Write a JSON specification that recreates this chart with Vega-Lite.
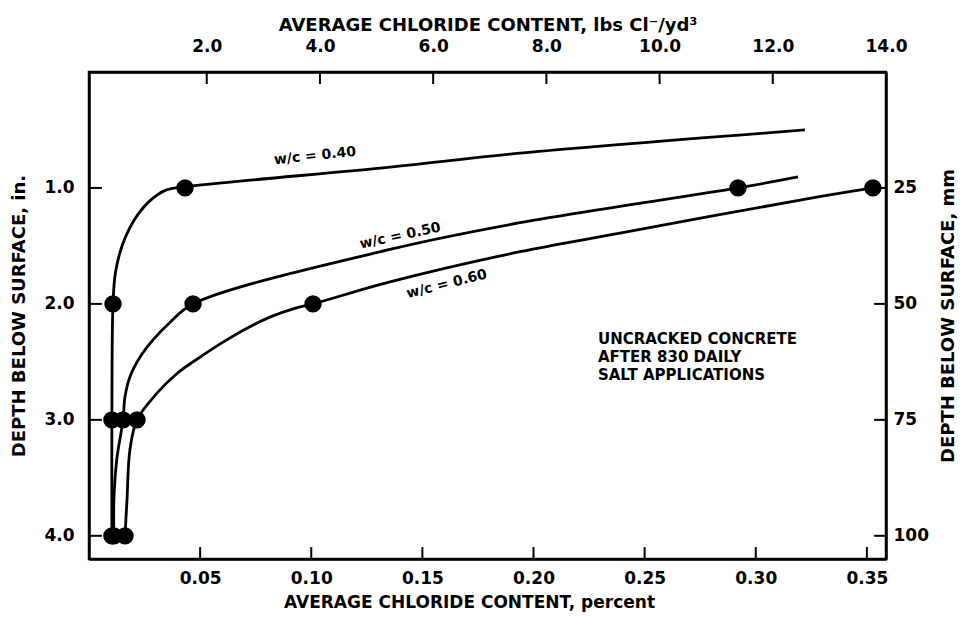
{
  "$schema": "https://vega.github.io/schema/vega-lite/v6.json",
  "width": 797,
  "height": 487,
  "autosize": "none",
  "padding": {"left": 89, "top": 72, "right": 79, "bottom": 59},
  "background": "white",
  "config": {
    "view": {"stroke": "black", "strokeWidth": 2.5},
    "font": "DejaVu Sans",
    "axis": {
      "grid": false,
      "domainColor": "black",
      "domainWidth": 2.5,
      "ticks": false,
      "labelColor": "black",
      "titleColor": "black",
      "labelFont": "DejaVu Sans",
      "titleFont": "DejaVu Sans",
      "labelFontSize": 17,
      "labelFontWeight": "bold",
      "titleFontSize": 17,
      "titleFontWeight": "bold",
      "labelFlush": false
    }
  },
  "datasets": {
    "curves": [
      {"wc": "0.40", "pct": 0.0103, "depth": 4.0},
      {"wc": "0.40", "pct": 0.0103, "depth": 3.0},
      {"wc": "0.40", "pct": 0.0108, "depth": 2.0},
      {"wc": "0.40", "pct": 0.0119, "depth": 1.73},
      {"wc": "0.40", "pct": 0.0151, "depth": 1.487},
      {"wc": "0.40", "pct": 0.0203, "depth": 1.278},
      {"wc": "0.40", "pct": 0.0270, "depth": 1.118},
      {"wc": "0.40", "pct": 0.0348, "depth": 1.017},
      {"wc": "0.40", "pct": 0.0432, "depth": 0.99},
      {"wc": "0.40", "pct": 0.1354, "depth": 0.82},
      {"wc": "0.40", "pct": 0.1939, "depth": 0.70},
      {"wc": "0.40", "pct": 0.3221, "depth": 0.50},
      {"wc": "0.50", "pct": 0.0112, "depth": 4.0},
      {"wc": "0.50", "pct": 0.0112, "depth": 3.69},
      {"wc": "0.50", "pct": 0.0125, "depth": 3.34},
      {"wc": "0.50", "pct": 0.0153, "depth": 3.0},
      {"wc": "0.50", "pct": 0.0162, "depth": 2.80},
      {"wc": "0.50", "pct": 0.0184, "depth": 2.63},
      {"wc": "0.50", "pct": 0.0229, "depth": 2.46},
      {"wc": "0.50", "pct": 0.0288, "depth": 2.31},
      {"wc": "0.50", "pct": 0.0364, "depth": 2.16},
      {"wc": "0.50", "pct": 0.0468, "depth": 2.0},
      {"wc": "0.50", "pct": 0.1354, "depth": 1.53},
      {"wc": "0.50", "pct": 0.1939, "depth": 1.30},
      {"wc": "0.50", "pct": 0.2920, "depth": 1.0},
      {"wc": "0.50", "pct": 0.3190, "depth": 0.905},
      {"wc": "0.60", "pct": 0.0162, "depth": 4.0},
      {"wc": "0.60", "pct": 0.0171, "depth": 3.69},
      {"wc": "0.60", "pct": 0.0184, "depth": 3.26},
      {"wc": "0.60", "pct": 0.0216, "depth": 3.0},
      {"wc": "0.60", "pct": 0.0306, "depth": 2.77},
      {"wc": "0.60", "pct": 0.0396, "depth": 2.60},
      {"wc": "0.60", "pct": 0.0499, "depth": 2.46},
      {"wc": "0.60", "pct": 0.0603, "depth": 2.33},
      {"wc": "0.60", "pct": 0.0711, "depth": 2.21},
      {"wc": "0.60", "pct": 0.0819, "depth": 2.11},
      {"wc": "0.60", "pct": 0.0922, "depth": 2.04},
      {"wc": "0.60", "pct": 0.1008, "depth": 2.0},
      {"wc": "0.60", "pct": 0.1354, "depth": 1.81},
      {"wc": "0.60", "pct": 0.1939, "depth": 1.55},
      {"wc": "0.60", "pct": 0.2389, "depth": 1.39},
      {"wc": "0.60", "pct": 0.3212, "depth": 1.10},
      {"wc": "0.60", "pct": 0.3527, "depth": 1.0}
    ],
    "points": [
      {"wc": "0.40", "pct": 0.0103, "depth": 4.0},
      {"wc": "0.40", "pct": 0.0103, "depth": 3.0},
      {"wc": "0.40", "pct": 0.0108, "depth": 2.0},
      {"wc": "0.40", "pct": 0.0432, "depth": 1.0},
      {"wc": "0.50", "pct": 0.0112, "depth": 4.0},
      {"wc": "0.50", "pct": 0.0153, "depth": 3.0},
      {"wc": "0.50", "pct": 0.0468, "depth": 2.0},
      {"wc": "0.50", "pct": 0.2920, "depth": 1.0},
      {"wc": "0.60", "pct": 0.0162, "depth": 4.0},
      {"wc": "0.60", "pct": 0.0216, "depth": 3.0},
      {"wc": "0.60", "pct": 0.1008, "depth": 2.0},
      {"wc": "0.60", "pct": 0.3527, "depth": 1.0}
    ],
    "labels": [
      {"wc": "0.40", "label": "w/c = 0.40", "pct": 0.1017, "depth": 0.724},
      {"wc": "0.50", "label": "w/c = 0.50", "pct": 0.140, "depth": 1.414},
      {"wc": "0.60", "label": "w/c = 0.60", "pct": 0.161, "depth": 1.83}
    ],
    "notes": [
      {"line": "UNCRACKED CONCRETE", "pct": 0.229, "depth": 2.30},
      {"line": "AFTER 830 DAILY", "pct": 0.229, "depth": 2.46},
      {"line": "SALT APPLICATIONS", "pct": 0.229, "depth": 2.61}
    ],
    "pctTicks": [
      {"pct": 0.05, "depth": 4.2, "depthEnd": 4.097},
      {"pct": 0.10, "depth": 4.2, "depthEnd": 4.097},
      {"pct": 0.15, "depth": 4.2, "depthEnd": 4.097},
      {"pct": 0.20, "depth": 4.2, "depthEnd": 4.097},
      {"pct": 0.25, "depth": 4.2, "depthEnd": 4.097},
      {"pct": 0.30, "depth": 4.2, "depthEnd": 4.097},
      {"pct": 0.35, "depth": 4.2, "depthEnd": 4.097}
    ],
    "depthTicks": [
      {"depth": 1, "pct": 0, "pctEnd": 0.0058},
      {"depth": 2, "pct": 0, "pctEnd": 0.0058},
      {"depth": 3, "pct": 0, "pctEnd": 0.0058},
      {"depth": 4, "pct": 0, "pctEnd": 0.0058}
    ],
    "lbsTicks": [
      {"lbs": 2, "mm": 0, "mmEnd": 2.6},
      {"lbs": 4, "mm": 0, "mmEnd": 2.6},
      {"lbs": 6, "mm": 0, "mmEnd": 2.6},
      {"lbs": 8, "mm": 0, "mmEnd": 2.6},
      {"lbs": 10, "mm": 0, "mmEnd": 2.6},
      {"lbs": 12, "mm": 0, "mmEnd": 2.6}
    ],
    "mmTicks": [
      {"mm": 25, "lbs": 14.0, "lbsEnd": 13.79},
      {"mm": 50, "lbs": 14.0, "lbsEnd": 13.79},
      {"mm": 75, "lbs": 14.0, "lbsEnd": 13.79},
      {"mm": 100, "lbs": 14.0, "lbsEnd": 13.79}
    ],
    "aux": [
      {"lbs": 2, "mm": 25},
      {"lbs": 14, "mm": 100}
    ]
  },
  "layer": [
    {
      "encoding": {
        "x": {
          "field": "pct", "type": "quantitative",
          "scale": {"domain": [0, 0.3586], "nice": false, "zero": false},
          "axis": {
            "orient": "bottom",
            "values": [0.05, 0.10, 0.15, 0.20, 0.25, 0.30, 0.35],
            "format": ".2f",
            "labelPadding": 11,
            "title": "AVERAGE CHLORIDE CONTENT,  percent",
            "titlePadding": 8,
            "titleX": 380
          }
        },
        "y": {
          "field": "depth", "type": "quantitative",
          "scale": {"domain": [0, 4.2], "reverse": true, "nice": false, "zero": false},
          "axis": {
            "orient": "left",
            "values": [1, 2, 3, 4],
            "format": ".1f",
            "labelPadding": 15,
            "title": "DEPTH BELOW SURFACE,  in.",
            "titleFontSize": 18,
            "titlePadding": 15
          }
        }
      },
      "layer": [
        {
          "data": {"name": "pctTicks"},
          "mark": {"type": "rule", "color": "black", "strokeWidth": 2},
          "encoding": {"y2": {"field": "depthEnd"}}
        },
        {
          "data": {"name": "depthTicks"},
          "mark": {"type": "rule", "color": "black", "strokeWidth": 2},
          "encoding": {"x2": {"field": "pctEnd"}}
        },
        {
          "data": {"name": "curves"},
          "mark": {"type": "line", "interpolate": "catmull-rom", "color": "black", "strokeWidth": 2.8},
          "encoding": {
            "detail": {"field": "wc"},
            "order": {"field": "depth", "sort": "descending"}
          }
        },
        {
          "data": {"name": "points"},
          "mark": {"type": "circle", "color": "black", "opacity": 1, "size": 300}
        },
        {
          "data": {"name": "labels"},
          "transform": [{"filter": "datum.wc == '0.40'"}],
          "mark": {"type": "text", "angle": -6, "fontSize": 14, "fontWeight": "bold", "color": "black", "align": "center", "baseline": "middle"},
          "encoding": {"text": {"field": "label"}}
        },
        {
          "data": {"name": "labels"},
          "transform": [{"filter": "datum.wc == '0.50'"}],
          "mark": {"type": "text", "angle": -12, "fontSize": 14, "fontWeight": "bold", "color": "black", "align": "center", "baseline": "middle"},
          "encoding": {"text": {"field": "label"}}
        },
        {
          "data": {"name": "labels"},
          "transform": [{"filter": "datum.wc == '0.60'"}],
          "mark": {"type": "text", "angle": -14, "fontSize": 14, "fontWeight": "bold", "color": "black", "align": "center", "baseline": "middle"},
          "encoding": {"text": {"field": "label"}}
        },
        {
          "data": {"name": "notes"},
          "mark": {"type": "text", "fontSize": 15, "fontWeight": "bold", "color": "black", "align": "left", "baseline": "middle"},
          "encoding": {"text": {"field": "line"}}
        }
      ]
    },
    {
      "encoding": {
        "x": {
          "field": "lbs", "type": "quantitative",
          "scale": {"domain": [-0.08, 14.0], "nice": false, "zero": false},
          "axis": {
            "orient": "top",
            "values": [2, 4, 6, 8, 10, 12, 14],
            "format": ".1f",
            "labelPadding": 17,
            "title": "AVERAGE CHLORIDE CONTENT,    lbs Cl⁻/yd³",
            "titleFontSize": 18,
            "titlePadding": 3
          }
        },
        "y": {
          "field": "mm", "type": "quantitative",
          "scale": {"domain": [0, 105], "reverse": true, "nice": false, "zero": false},
          "axis": {
            "orient": "right",
            "values": [25, 50, 75, 100],
            "format": "d",
            "labelPadding": 7,
            "title": "DEPTH BELOW SURFACE,   mm",
            "titleFontSize": 18,
            "titleAngle": 270,
            "titlePadding": 29
          }
        }
      },
      "layer": [
        {
          "data": {"name": "aux"},
          "mark": {"type": "point", "opacity": 0}
        },
        {
          "data": {"name": "lbsTicks"},
          "mark": {"type": "rule", "color": "black", "strokeWidth": 2},
          "encoding": {"y2": {"field": "mmEnd"}}
        },
        {
          "data": {"name": "mmTicks"},
          "mark": {"type": "rule", "color": "black", "strokeWidth": 2},
          "encoding": {"x2": {"field": "lbsEnd"}}
        }
      ]
    }
  ],
  "resolve": {"scale": {"x": "independent", "y": "independent"}}
}
